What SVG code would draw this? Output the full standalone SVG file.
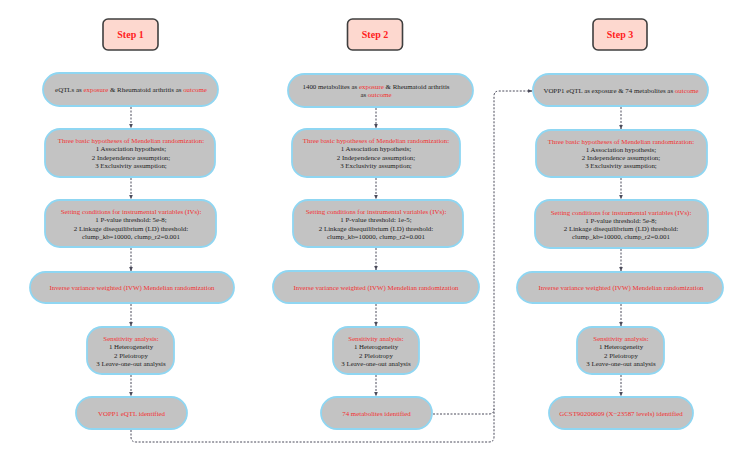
<svg xmlns="http://www.w3.org/2000/svg" width="753" height="463" viewBox="0 0 753 463">
<defs>
<marker id="ah" viewBox="0 0 6 6" refX="5.5" refY="3" markerWidth="4.5" markerHeight="4.5" orient="auto" markerUnits="userSpaceOnUse">
<path d="M0,0.5 L6,3 L0,5.5 Z" fill="#4a4a5a"/>
</marker>
<style>
.step rect{fill:#fdd8cf;stroke:#3f3f3f;stroke-width:1.6}
.step text{font-family:"Liberation Serif",serif;font-weight:bold;font-size:10px;fill:#ff2020;text-anchor:middle}
.node rect{fill:#c3c3c3;stroke:#8fd6f2;stroke-width:1.8}
.node text{font-family:"Liberation Serif",serif;font-size:6.9px;fill:#222;text-anchor:middle}
.node .r{fill:#f23030}
.c{fill:none;stroke:#4a4a5a;stroke-width:1;stroke-dasharray:2 1.5}
</style>
</defs>
<rect width="753" height="463" fill="#ffffff"/>

<g id="step1" class="step"><rect x="103" y="19" width="55" height="31" rx="5"/><text x="130.5" y="38">Step 1</text></g>
<g id="step2" class="step"><rect x="347.5" y="19" width="55" height="31" rx="5"/><text x="375" y="38">Step 2</text></g>
<g id="step3" class="step"><rect x="593" y="19" width="54" height="31" rx="5"/><text x="620" y="38">Step 3</text></g>

<!-- Column 1 -->
<g id="c1n1" class="node"><rect x="43" y="73" width="175" height="33" rx="16.5"/><text x="131" y="92"><tspan>eQTLs as </tspan><tspan class="r">exposure</tspan><tspan> &amp; Rheumatoid arthritis as </tspan><tspan class="r">outcome</tspan></text></g>
<g id="c1n2" class="node"><rect x="45" y="129" width="170" height="48" rx="15"/><text x="131"><tspan class="r" x="131" y="143">Three basic hypotheses of Mendelian randomization:</tspan><tspan x="131" y="151.3">1 Association hypothesis;</tspan><tspan x="131" y="159.6">2 Independence assumption;</tspan><tspan x="131" y="167.9">3 Exclusivity assumption;</tspan></text></g>
<g id="c1n3" class="node"><rect x="45" y="200" width="171" height="47" rx="15"/><text x="131"><tspan class="r" x="131" y="214">Setting conditions for instrumental variables (IVs):</tspan><tspan x="131" y="222.3">1 P-value threshold: 5e-8;</tspan><tspan x="131" y="230.6">2 Linkage disequilibrium (LD) threshold:</tspan><tspan x="131" y="238.9">clump_kb=10000, clump_r2=0.001</tspan></text></g>
<g id="c1n4" class="node"><rect x="30" y="272" width="204" height="31" rx="15.5"/><text x="132" y="290" class="r">Inverse variance weighted (IVW) Mendelian randomization</text></g>
<g id="c1n5" class="node"><rect x="87" y="327" width="87" height="47" rx="15"/><text x="131"><tspan class="r" x="131" y="341">Sensitivity analysis:</tspan><tspan x="131" y="349.3">1 Heterogeneity</tspan><tspan x="131" y="357.6">2 Pleiotropy</tspan><tspan x="131" y="365.9">3 Leave-one-out analysis</tspan></text></g>
<g id="c1n6" class="node"><rect x="76" y="397" width="111" height="32" rx="16"/><text x="131.5" y="416" class="r">VOPP1 eQTL identified</text></g>

<!-- Column 2 -->
<g id="c2n1" class="node"><rect x="288" y="74" width="185" height="33" rx="16.5"/><text x="376"><tspan x="376" y="88.5">1400 metabolites as <tspan class="r">exposure</tspan> &amp; Rheumatoid arthritis</tspan><tspan x="376" y="96.8">as <tspan class="r">outcome</tspan></tspan></text></g>
<g id="c2n2" class="node"><rect x="292" y="129" width="168" height="48" rx="15"/><text x="376"><tspan class="r" x="376" y="143">Three basic hypotheses of Mendelian randomization:</tspan><tspan x="376" y="151.3">1 Association hypothesis;</tspan><tspan x="376" y="159.6">2 Independence assumption;</tspan><tspan x="376" y="167.9">3 Exclusivity assumption;</tspan></text></g>
<g id="c2n3" class="node"><rect x="293" y="200" width="170" height="47" rx="15"/><text x="376"><tspan class="r" x="376" y="214">Setting conditions for instrumental variables (IVs):</tspan><tspan x="376" y="222.3">1 P-value threshold: 1e-5;</tspan><tspan x="376" y="230.6">2 Linkage disequilibrium (LD) threshold:</tspan><tspan x="376" y="238.9">clump_kb=10000, clump_r2=0.001</tspan></text></g>
<g id="c2n4" class="node"><rect x="273" y="271" width="206" height="32" rx="16"/><text x="376" y="289.5" class="r">Inverse variance weighted (IVW) Mendelian randomization</text></g>
<g id="c2n5" class="node"><rect x="333" y="327" width="86" height="47" rx="15"/><text x="376"><tspan class="r" x="376" y="341">Sensitivity analysis:</tspan><tspan x="376" y="349.3">1 Heterogeneity</tspan><tspan x="376" y="357.6">2 Pleiotropy</tspan><tspan x="376" y="365.9">3 Leave-one-out analysis</tspan></text></g>
<g id="c2n6" class="node"><rect x="321" y="397" width="111" height="32" rx="16"/><text x="376.5" y="416" class="r">74 metabolites identified</text></g>

<!-- Column 3 -->
<g id="c3n1" class="node"><rect x="533" y="74" width="175" height="32" rx="16"/><text x="621" y="92.5"><tspan>VOPP1 eQTL as exposure &amp; 74 metabolites as </tspan><tspan class="r">outcome</tspan></text></g>
<g id="c3n2" class="node"><rect x="536" y="130" width="171" height="47" rx="15"/><text x="621"><tspan class="r" x="621" y="143.5">Three basic hypotheses of Mendelian randomization:</tspan><tspan x="621" y="151.8">1 Association hypothesis;</tspan><tspan x="621" y="160.1">2 Independence assumption;</tspan><tspan x="621" y="168.4">3 Exclusivity assumption;</tspan></text></g>
<g id="c3n3" class="node"><rect x="535" y="200" width="173" height="48" rx="15"/><text x="621"><tspan class="r" x="621" y="214.5">Setting conditions for instrumental variables (IVs):</tspan><tspan x="621" y="222.8">1 P-value threshold: 5e-8;</tspan><tspan x="621" y="231.1">2 Linkage disequilibrium (LD) threshold:</tspan><tspan x="621" y="239.4">clump_kb=10000, clump_r2=0.001</tspan></text></g>
<g id="c3n4" class="node"><rect x="517" y="272" width="206" height="31" rx="15.5"/><text x="621" y="290" class="r">Inverse variance weighted (IVW) Mendelian randomization</text></g>
<g id="c3n5" class="node"><rect x="577" y="327" width="87" height="47" rx="15"/><text x="621"><tspan class="r" x="621" y="341">Sensitivity analysis:</tspan><tspan x="621" y="349.3">1 Heterogeneity</tspan><tspan x="621" y="357.6">2 Pleiotropy</tspan><tspan x="621" y="365.9">3 Leave-one-out analysis</tspan></text></g>
<g id="c3n6" class="node"><rect x="549" y="397" width="144" height="32" rx="16"/><text x="621" y="416" class="r">GCST90200609 (X−23587 levels) identified</text></g>

<g id="connectors">
<path class="c" d="M131,107 V128" marker-end="url(#ah)"/>
<path class="c" d="M131,178 V199" marker-end="url(#ah)"/>
<path class="c" d="M131,248 V271" marker-end="url(#ah)"/>
<path class="c" d="M131,304 V326" marker-end="url(#ah)"/>
<path class="c" d="M131,375 V396" marker-end="url(#ah)"/>

<path class="c" d="M376,108 V128" marker-end="url(#ah)"/>
<path class="c" d="M376,178 V199" marker-end="url(#ah)"/>
<path class="c" d="M376,248 V270" marker-end="url(#ah)"/>
<path class="c" d="M376,304 V326" marker-end="url(#ah)"/>
<path class="c" d="M376,375 V396" marker-end="url(#ah)"/>

<path class="c" d="M621,107 V129" marker-end="url(#ah)"/>
<path class="c" d="M621,178 V199" marker-end="url(#ah)"/>
<path class="c" d="M621,249 V271" marker-end="url(#ah)"/>
<path class="c" d="M621,304 V326" marker-end="url(#ah)"/>
<path class="c" d="M621,375 V396" marker-end="url(#ah)"/>

<path class="c" d="M131,430 V437 Q131,442 136,442 H489 Q494,442 494,437 V96 Q494,91 499,91 H532" marker-end="url(#ah)"/>
<path class="c" d="M433,414 H489 Q494,414 494,409"/>
</g>
</svg>
